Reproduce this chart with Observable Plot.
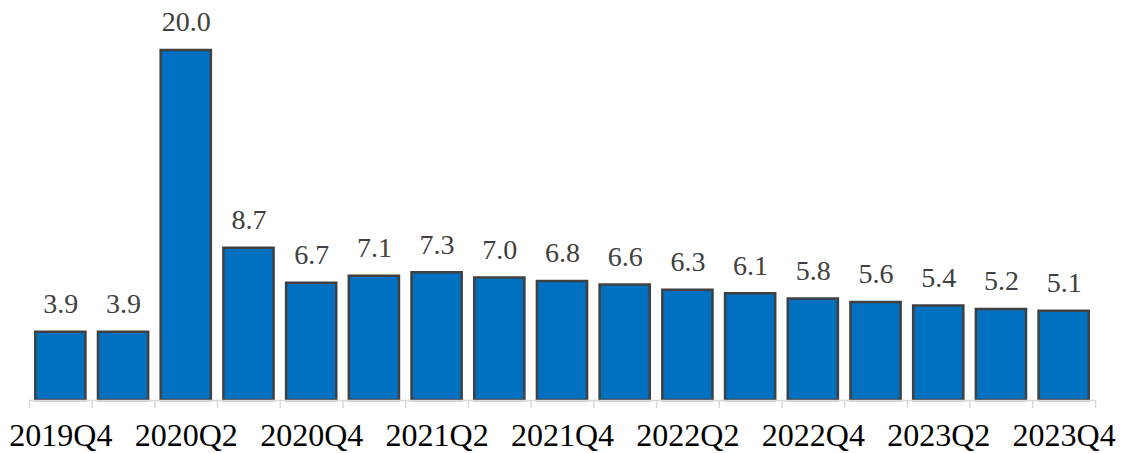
<!DOCTYPE html>
<html>
<head>
<meta charset="utf-8">
<script src="https://cdn.jsdelivr.net/npm/d3@7"></script>
<script src="https://cdn.jsdelivr.net/npm/@observablehq/plot@0.6"></script>
<style>
  html, body { margin: 0; padding: 0; background: #fff; }
  #chart svg { display: block; }
</style>
</head>
<body>
<div id="chart"></div>
<script>
const quarters = ["2019Q4","2020Q1","2020Q2","2020Q3","2020Q4","2021Q1","2021Q2","2021Q3","2021Q4","2022Q1","2022Q2","2022Q3","2022Q4","2023Q1","2023Q2","2023Q3","2023Q4"];
const values = [3.9, 3.9, 20.0, 8.7, 6.7, 7.1, 7.3, 7.0, 6.8, 6.6, 6.3, 6.1, 5.8, 5.6, 5.4, 5.2, 5.1];
const shownTicks = ["2019Q4","2020Q2","2020Q4","2021Q2","2021Q4","2022Q2","2022Q4","2023Q2","2023Q4"];

const data = quarters.map((q, i) => ({quarter: q, value: values[i]}));

const W = 1122, H = 453;
const mL = 29, mR = 27, mT = 50, mB = 53;
const step = (W - mL - mR) / quarters.length;
const font = "'Liberation Serif', 'Times New Roman', serif";

const chart = Plot.plot({
  width: W,
  height: H,
  marginLeft: mL,
  marginRight: mR,
  marginTop: mT,
  marginBottom: mB,
  style: {fontFamily: font, background: "#fff"},
  x: {domain: quarters, paddingInner: 0.2, paddingOuter: 0.1, round: false, label: null},
  y: {domain: [0, 20], axis: null},
  marks: [
    Plot.barY(data, {x: "quarter", y: "value", fill: "#0070C0", stroke: "#404040", strokeWidth: 2.5}),
    Plot.ruleY([0], {stroke: "#d9d9d9", strokeWidth: 1.5}),
    Plot.ruleX(quarters, {x: d => d, y1: 0, y2: 0, dx: -step / 2, insetBottom: -8, stroke: "#d9d9d9", strokeWidth: 1.5}),
    Plot.ruleX(quarters.slice(-1), {x: d => d, y1: 0, y2: 0, dx: step / 2, insetBottom: -8, stroke: "#d9d9d9", strokeWidth: 1.5}),
    Plot.text(data, {x: "quarter", y: "value", text: d => d.value.toFixed(1), dy: -28, fontSize: 28, fill: "#404040"}),
    Plot.axisX({tickSize: 0, tickPadding: 23, fontSize: 32, fill: "#000", tickFormat: d => shownTicks.includes(d) ? d : ""})
  ]
});
document.getElementById("chart").appendChild(chart);
</script>
</body>
</html>
